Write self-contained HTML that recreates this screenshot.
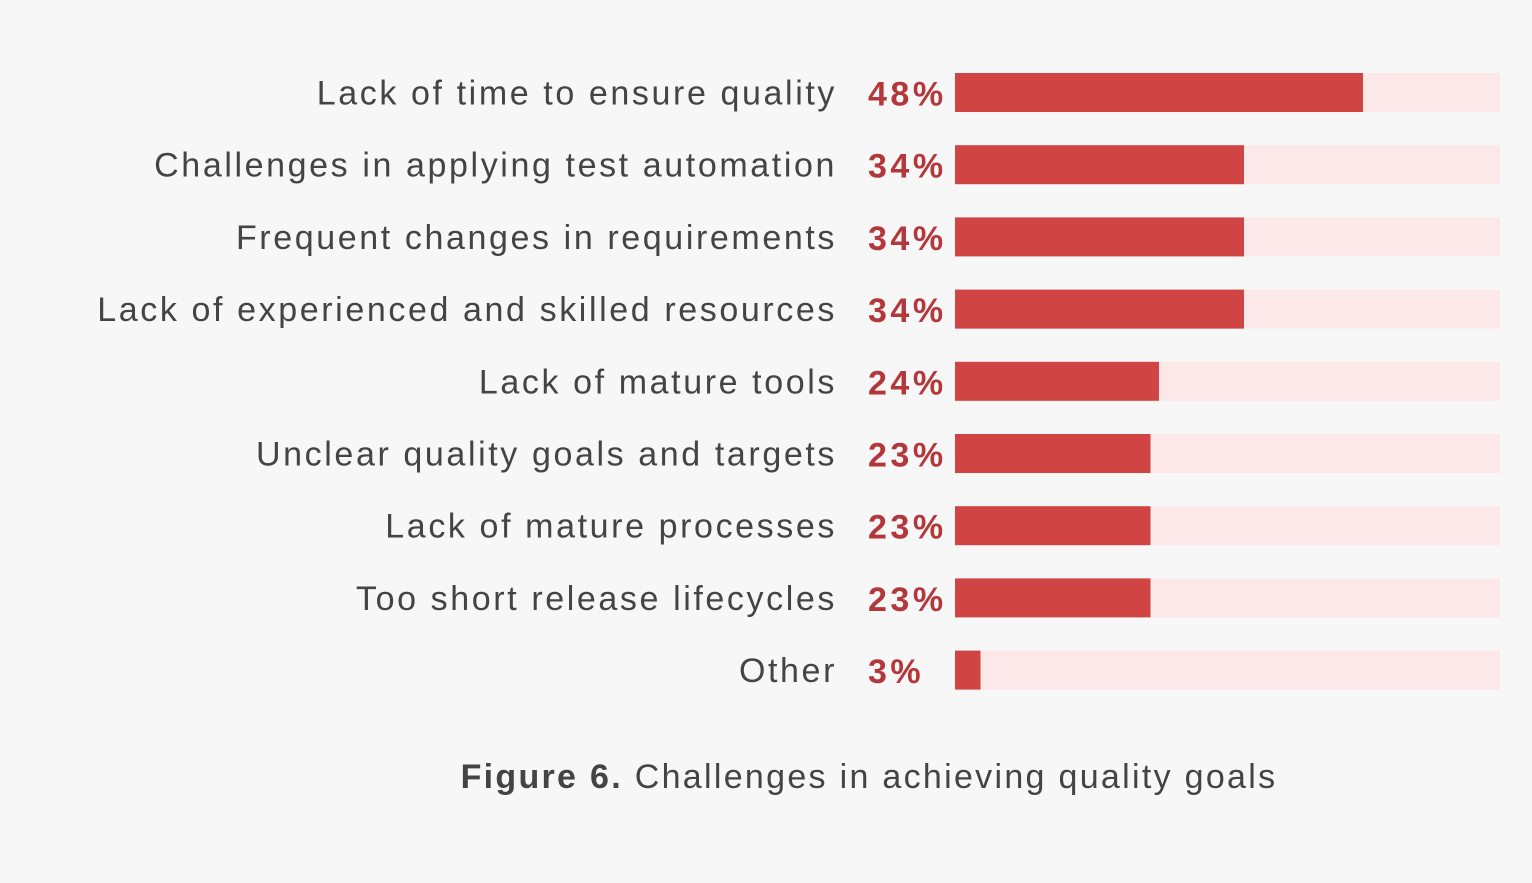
<!DOCTYPE html>
<html><head><meta charset="utf-8"><style>
html,body{margin:0;padding:0;background:#f7f7f7;}
#wrap{position:relative;width:1532px;height:878px;background:#f7f7f7;font-family:"Liberation Sans",sans-serif;}
svg text{font-family:"Liberation Sans",sans-serif;}
</style></head><body>
<div id="wrap">
<svg id="chart" width="1532" height="878"></svg>
</div>
<script>
const categories=["Lack of time to ensure quality","Challenges in applying test automation","Frequent changes in requirements","Lack of experienced and skilled resources","Lack of mature tools","Unclear quality goals and targets","Lack of mature processes","Too short release lifecycles","Other"];
const values=[48,34,34,34,24,23,23,23,3];
const valueLabels=["48%","34%","34%","34%","24%","23%","23%","23%","3%"];
const NS="http://www.w3.org/2000/svg";
const svg=document.getElementById('chart');
const x0=955,pxPerPct=8.5,trackEnd=1500;
function xScale(v){return x0+v*pxPerPct;}
function yScale(i){return 73+i*72.2;}
const bh=39;
function mk(tag,attrs){const e=document.createElementNS(NS,tag);for(const k in attrs)e.setAttribute(k,attrs[k]);svg.appendChild(e);return e;}
categories.forEach((c,i)=>{
 const y=yScale(i);
 const tr=mk('rect',{x:x0,y:y,width:trackEnd-x0,height:bh,fill:'#fde8e9'});
 
 
 const b=mk('rect',{x:x0,y:y,width:xScale(values[i])-x0,height:bh,fill:'#d14444'});
 
 
 const t=mk('text',{x:837,y:y+bh/2+12,'text-anchor':'end','font-size':'34',fill:'#444',"letter-spacing":"2.6"});
 t.textContent=c;
 
 
 const v=mk('text',{x:868,y:y+bh/2+13,'font-size':'34','font-weight':'bold',fill:'#b3373b',"letter-spacing":"3.5"});
 v.textContent=valueLabels[i];
 
 
});
const cap=mk('text',{x:869,y:788,'text-anchor':'middle','font-size':'34',fill:'#444',"letter-spacing":"2.3"});


const b1=document.createElementNS(NS,'tspan');b1.setAttribute('font-weight','bold');b1.textContent='Figure 6.';
const b2=document.createElementNS(NS,'tspan');b2.textContent=' Challenges in achieving quality goals';
cap.appendChild(b1);cap.appendChild(b2);
</script>
</body></html>
